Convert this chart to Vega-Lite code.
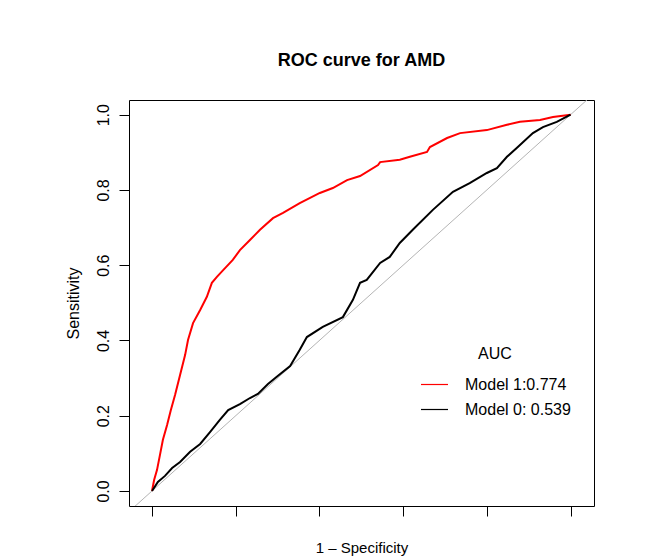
{
  "$schema": "https://vega.github.io/schema/vega-lite/v6.json",
  "width": 465,
  "height": 406,
  "autosize": "none",
  "padding": {"left": 129, "top": 100, "right": 52, "bottom": 51},
  "background": "white",
  "config": {
    "font": "Liberation Sans",
    "view": {"stroke": "black", "strokeWidth": 1},
    "axis": {"grid": false, "domain": false, "tickColor": "black", "tickSize": 10, "labelColor": "black", "titleColor": "black", "labelFont": "Liberation Sans", "titleFont": "Liberation Sans", "titleFontWeight": "normal"}
  },
  "title": {"text": "ROC curve for AMD", "fontSize": 18, "fontWeight": "bold", "font": "Liberation Sans", "color": "black", "offset": 30, "anchor": "middle"},
  "datasets": {
    "curves": [
      {"model": "Model 1:0.774", "fpr": 0, "tpr": 0},
      {"model": "Model 1:0.774", "fpr": 0.005, "tpr": 0.029},
      {"model": "Model 1:0.774", "fpr": 0.012, "tpr": 0.056},
      {"model": "Model 1:0.774", "fpr": 0.019, "tpr": 0.096},
      {"model": "Model 1:0.774", "fpr": 0.026, "tpr": 0.136},
      {"model": "Model 1:0.774", "fpr": 0.036, "tpr": 0.175},
      {"model": "Model 1:0.774", "fpr": 0.045, "tpr": 0.215},
      {"model": "Model 1:0.774", "fpr": 0.055, "tpr": 0.255},
      {"model": "Model 1:0.774", "fpr": 0.067, "tpr": 0.308},
      {"model": "Model 1:0.774", "fpr": 0.079, "tpr": 0.361},
      {"model": "Model 1:0.774", "fpr": 0.086, "tpr": 0.401},
      {"model": "Model 1:0.774", "fpr": 0.098, "tpr": 0.446},
      {"model": "Model 1:0.774", "fpr": 0.115, "tpr": 0.481},
      {"model": "Model 1:0.774", "fpr": 0.131, "tpr": 0.516},
      {"model": "Model 1:0.774", "fpr": 0.143, "tpr": 0.553},
      {"model": "Model 1:0.774", "fpr": 0.155, "tpr": 0.569},
      {"model": "Model 1:0.774", "fpr": 0.170, "tpr": 0.587},
      {"model": "Model 1:0.774", "fpr": 0.193, "tpr": 0.614},
      {"model": "Model 1:0.774", "fpr": 0.210, "tpr": 0.640},
      {"model": "Model 1:0.774", "fpr": 0.234, "tpr": 0.667},
      {"model": "Model 1:0.774", "fpr": 0.258, "tpr": 0.694},
      {"model": "Model 1:0.774", "fpr": 0.289, "tpr": 0.725},
      {"model": "Model 1:0.774", "fpr": 0.313, "tpr": 0.739},
      {"model": "Model 1:0.774", "fpr": 0.353, "tpr": 0.765},
      {"model": "Model 1:0.774", "fpr": 0.401, "tpr": 0.792},
      {"model": "Model 1:0.774", "fpr": 0.432, "tpr": 0.805},
      {"model": "Model 1:0.774", "fpr": 0.466, "tpr": 0.826},
      {"model": "Model 1:0.774", "fpr": 0.497, "tpr": 0.837},
      {"model": "Model 1:0.774", "fpr": 0.540, "tpr": 0.866},
      {"model": "Model 1:0.774", "fpr": 0.545, "tpr": 0.874},
      {"model": "Model 1:0.774", "fpr": 0.592, "tpr": 0.880},
      {"model": "Model 1:0.774", "fpr": 0.616, "tpr": 0.888},
      {"model": "Model 1:0.774", "fpr": 0.657, "tpr": 0.901},
      {"model": "Model 1:0.774", "fpr": 0.664, "tpr": 0.914},
      {"model": "Model 1:0.774", "fpr": 0.705, "tpr": 0.938},
      {"model": "Model 1:0.774", "fpr": 0.736, "tpr": 0.951},
      {"model": "Model 1:0.774", "fpr": 0.800, "tpr": 0.959},
      {"model": "Model 1:0.774", "fpr": 0.848, "tpr": 0.973},
      {"model": "Model 1:0.774", "fpr": 0.879, "tpr": 0.981},
      {"model": "Model 1:0.774", "fpr": 0.927, "tpr": 0.986},
      {"model": "Model 1:0.774", "fpr": 0.958, "tpr": 0.994},
      {"model": "Model 1:0.774", "fpr": 1, "tpr": 1},
      {"model": "Model 0: 0.539", "fpr": 0, "tpr": 0},
      {"model": "Model 0: 0.539", "fpr": 0.014, "tpr": 0.024},
      {"model": "Model 0: 0.539", "fpr": 0.031, "tpr": 0.040},
      {"model": "Model 0: 0.539", "fpr": 0.048, "tpr": 0.061},
      {"model": "Model 0: 0.539", "fpr": 0.067, "tpr": 0.077},
      {"model": "Model 0: 0.539", "fpr": 0.091, "tpr": 0.104},
      {"model": "Model 0: 0.539", "fpr": 0.115, "tpr": 0.125},
      {"model": "Model 0: 0.539", "fpr": 0.139, "tpr": 0.157},
      {"model": "Model 0: 0.539", "fpr": 0.162, "tpr": 0.189},
      {"model": "Model 0: 0.539", "fpr": 0.182, "tpr": 0.215},
      {"model": "Model 0: 0.539", "fpr": 0.210, "tpr": 0.231},
      {"model": "Model 0: 0.539", "fpr": 0.234, "tpr": 0.247},
      {"model": "Model 0: 0.539", "fpr": 0.253, "tpr": 0.258},
      {"model": "Model 0: 0.539", "fpr": 0.277, "tpr": 0.284},
      {"model": "Model 0: 0.539", "fpr": 0.301, "tpr": 0.306},
      {"model": "Model 0: 0.539", "fpr": 0.330, "tpr": 0.332},
      {"model": "Model 0: 0.539", "fpr": 0.353, "tpr": 0.375},
      {"model": "Model 0: 0.539", "fpr": 0.370, "tpr": 0.409},
      {"model": "Model 0: 0.539", "fpr": 0.408, "tpr": 0.436},
      {"model": "Model 0: 0.539", "fpr": 0.456, "tpr": 0.462},
      {"model": "Model 0: 0.539", "fpr": 0.480, "tpr": 0.508},
      {"model": "Model 0: 0.539", "fpr": 0.497, "tpr": 0.553},
      {"model": "Model 0: 0.539", "fpr": 0.513, "tpr": 0.561},
      {"model": "Model 0: 0.539", "fpr": 0.545, "tpr": 0.606},
      {"model": "Model 0: 0.539", "fpr": 0.568, "tpr": 0.622},
      {"model": "Model 0: 0.539", "fpr": 0.592, "tpr": 0.659},
      {"model": "Model 0: 0.539", "fpr": 0.623, "tpr": 0.694},
      {"model": "Model 0: 0.539", "fpr": 0.671, "tpr": 0.747},
      {"model": "Model 0: 0.539", "fpr": 0.719, "tpr": 0.795},
      {"model": "Model 0: 0.539", "fpr": 0.759, "tpr": 0.818},
      {"model": "Model 0: 0.539", "fpr": 0.800, "tpr": 0.845},
      {"model": "Model 0: 0.539", "fpr": 0.824, "tpr": 0.858},
      {"model": "Model 0: 0.539", "fpr": 0.848, "tpr": 0.888},
      {"model": "Model 0: 0.539", "fpr": 0.872, "tpr": 0.912},
      {"model": "Model 0: 0.539", "fpr": 0.910, "tpr": 0.951},
      {"model": "Model 0: 0.539", "fpr": 0.934, "tpr": 0.967},
      {"model": "Model 0: 0.539", "fpr": 0.967, "tpr": 0.981},
      {"model": "Model 0: 0.539", "fpr": 1, "tpr": 1}
    ],
    "diag": [
      {"fpr": -0.2, "tpr": -0.2},
      {"fpr": 1.2, "tpr": 1.2}
    ]
  },
  "layer": [
    {
      "data": {"name": "diag"},
      "mark": {"type": "line", "color": "#b4b4b4", "strokeWidth": 1, "clip": true},
      "encoding": {
        "x": {"field": "fpr", "type": "quantitative"},
        "y": {"field": "tpr", "type": "quantitative"}
      }
    },
    {
      "data": {"name": "curves"},
      "mark": {"type": "line", "strokeWidth": 2, "clip": true},
      "encoding": {
        "x": {
          "field": "fpr", "type": "quantitative",
          "scale": {"domain": [-0.055, 1.056], "nice": false, "zero": false},
          "axis": {"values": [0, 0.2, 0.4, 0.6, 0.8, 1], "labels": false, "title": "1 – Specificity", "titleFontSize": 15, "titlePadding": 24}
        },
        "y": {
          "field": "tpr", "type": "quantitative",
          "scale": {"domain": [-0.04, 1.039], "nice": false, "zero": false},
          "axis": {"values": [0, 0.2, 0.4, 0.6, 0.8, 1], "format": ".1f", "labelAngle": -90, "labelFontSize": 16, "labelPadding": 8, "title": "Sensitivity", "titleFontSize": 16, "titlePadding": 14}
        },
        "color": {
          "field": "model", "type": "nominal",
          "scale": {"domain": ["Model 1:0.774", "Model 0: 0.539"], "range": ["#ff0000", "#000000"]},
          "legend": {
            "title": "AUC", "orient": "none", "legendX": 291, "legendY": 246,
            "titleFontSize": 16, "titleFontWeight": "normal", "titleColor": "black", "titleAnchor": "middle", "titlePadding": 8,
            "labelFontSize": 16, "labelColor": "black", "labelOffset": 16,
            "symbolType": "stroke", "symbolSize": 729, "symbolStrokeWidth": 1.2, "rowPadding": 2
          }
        },
        "detail": {"field": "model"}
      }
    }
  ]
}
